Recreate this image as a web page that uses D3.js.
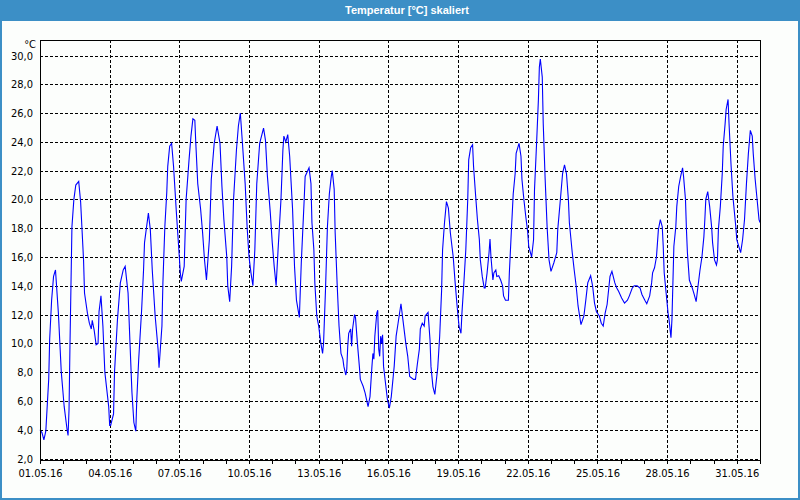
<!DOCTYPE html>
<html>
<head>
<meta charset="utf-8">
<script src="https://cdn.jsdelivr.net/npm/d3@7"></script>
<style>
body { margin: 0; background: #fff; }
text { font-family: "Liberation Sans Narrow", "DejaVu Sans Condensed", "Liberation Sans", sans-serif; }
</style>
</head>
<body>
<script>
// hours since 01.05.16 00:00
var hours = [0,2,4,6,7,9,10,12,14,16,19,22,25,28,29,30,31,32,33,35,37,40,42,45,46,49,51,53,54,56,58,60,61,63,65,67,71,72,73,76,77,80,83,86,88,91,93,95,97,99,
    100,102,105,107,108,112,114,116,119,122,123,126,127,129,131,132,134,136,138,141,143,145,146,149,151,154,156,158,160,161,163,166,168,170,172,175,177,180,183,186,188,190,193,194,196,198,
    200,203,205,207,209,212,214,216,218,220,222,224,227,231,233,235,238,240,242,244,246,249,251,252,254,256,258,261,263,265,268,270,273,274,278,280,281,283,284,286,288,290,292,293,295,297,299,
    301,302,304,305,307,309,311,313,314,316,317,318,319,321,322,323,325,326,328,330,331,334,336,339,341,343,344,345,346,348,349,350,351,352,353,354,355,357,359,361,363,366,368,370,373,375,378,380,382,386,388,390,392,393,395,397,398,
    401,403,404,406,408,410,411,413,415,416,418,420,422,424,427,429,431,433,435,436,438,440,442,443,445,447,448,450,452,454,455,457,459,460,462,464,465,466,468,469,471,472,474,476,478,479,481,484,485,487,489,491,492,495,497,498,
    500,502,504,505,508,510,511,513,515,516,517,519,520,522,524,526,528,531,534,535,538,540,542,544,546,547,550,552,554,556,559,562,564,566,569,571,573,575,578,580,582,584,586,588,589,591,594,596,598,
    601,604,607,609,612,614,617,620,622,625,627,630,632,633,635,637,639,641,643,644,645,647,649,650,652,653,654,655,657,658,660,662,664,665,667,668,669,671,674,676,678,680,682,684,686,687,688,690,692,694,695,697,699,
    700,701,703,705,706,708,709,711,712,714,716,718,719,720,724,726,728,730,732,734,736,737,739,741,743,744];

var temps = [4.0,3.8,3.3,3.9,5.1,7.5,10.3,13.0,14.65,15.1,12.1,8.0,5.6,4.0,3.6,5.4,10.0,14.0,18.1,20.0,21.0,21.25,19.8,15.8,13.5,12.1,11.4,11.0,11.6,10.9,9.9,10.0,12.2,13.3,11.2,8.0,5.6,4.3,4.3,5.1,8.0,11.6,14.2,15.1,15.35,13.5,10.0,6.6,4.5,3.9,
    6.1,8.9,12.3,15.1,17.0,19.05,17.9,15.1,11.9,9.6,8.3,11.2,14.2,18.1,20.5,22.3,23.7,23.9,22.3,19.0,17.0,14.9,14.3,15.35,20.0,22.75,24.4,25.6,25.5,23.9,21.1,19.3,17.7,15.8,14.4,17.2,21.4,23.9,25.1,23.9,20.9,18.6,16.0,14.0,12.9,15.35,
    20.0,23.45,25.1,26.0,24.1,21.1,18.1,16.0,14.9,14.0,16.5,21.1,23.9,24.95,24.1,21.6,19.05,17.0,15.35,14.0,16.5,20.0,23.45,24.4,24.0,24.5,23.0,19.3,15.35,13.0,11.8,15.6,20.0,21.6,22.2,21.1,18.4,16.5,14.2,11.9,11.2,10.1,9.3,10.0,13.7,18.1,20.4,
    21.6,22.0,20.7,17.7,14.2,11.2,9.3,8.9,8.4,7.8,8.2,9.8,10.7,11.0,9.8,11.0,12.0,11.8,10.0,8.4,7.5,7.0,6.55,5.6,6.3,8.4,9.3,8.9,10.5,12.1,12.3,9.6,9.1,10.5,10.0,10.6,8.4,7.25,6.1,5.5,6.3,8.4,10.5,11.4,12.75,11.65,10.0,9.1,7.7,7.5,7.5,8.6,9.6,11.0,11.4,11.2,11.9,
    12.15,10.25,8.4,7.0,6.45,7.7,8.3,10.5,13.7,16.5,18.4,19.85,19.4,17.7,16.0,14.2,12.6,11.2,10.7,12.1,14.2,16.5,20.0,22.75,23.6,23.8,22.3,20.4,18.6,17.2,15.8,14.65,13.85,13.85,14.9,16.3,17.25,16.0,14.4,14.9,15.1,14.65,14.7,14.4,14.0,13.3,13.0,13.0,14.9,17.7,20.4,21.8,23.2,23.9,23.0,21.4,
    20.0,18.8,17.7,16.75,16.0,17.2,20.7,23.7,26.9,29.2,29.75,28.5,25.3,21.4,18.1,15.8,15.0,15.6,16.3,17.9,20.2,21.8,22.4,21.8,20.0,18.4,16.3,15.1,14.0,12.6,11.3,11.9,13.0,14.2,14.7,14.0,12.8,12.2,11.9,11.4,11.2,12.1,12.7,14.0,14.65,15.0,14.2,13.85,13.6,
    13.15,12.8,13.0,13.3,13.85,14.0,14.0,13.85,13.4,13.0,12.75,13.3,14.2,14.9,15.25,16.0,17.9,18.6,18.1,16.75,14.9,13.5,12.1,11.65,10.4,11.65,14.2,16.75,18.1,19.5,20.9,21.6,22.2,21.6,20.0,17.9,16.3,14.4,13.85,13.4,12.9,14.0,15.1,16.0,17.4,18.6,20.0,20.55,19.5,18.1,17.0,15.8,15.45,
    15.8,17.9,19.5,21.8,23.7,25.3,26.25,26.95,25.3,22.5,20.2,18.8,18.1,17.2,16.3,17.2,18.6,21.1,23.2,24.8,24.4,23.2,21.4,20.0,18.6,18.4];

var xTickLabels = ["01.05.16","04.05.16","07.05.16","10.05.16","13.05.16","16.05.16","19.05.16","22.05.16","25.05.16","28.05.16","31.05.16"];
var yTicks = [2,4,6,8,10,12,14,16,18,20,22,24,26,28,30];
var title = "Temperatur [°C] skaliert";
var unit = "°C";

(function() {

    var w = 800, h = 500;
    var blue = "#3c8fc6";
    var start = new Date(2016, 4, 1), end = new Date(2016, 5, 1);
    var parseDay = d3.timeParse("%d.%m.%y");

    var svg = d3.select("body").append("svg")
        .attr("width", w)
        .attr("height", h);

    // frame + title bar
    svg.append("rect")
        .attr("x", 1).attr("y", 1)
        .attr("width", w - 2).attr("height", h - 2)
        .attr("fill", "#fcfefc")
        .attr("stroke", blue)
        .attr("stroke-width", 2);

    svg.append("rect")
        .attr("x", 0).attr("y", 0)
        .attr("width", w).attr("height", 21)
        .attr("fill", blue);

    svg.append("text")
        .attr("x", 407).attr("y", 14)
        .attr("text-anchor", "middle")
        .attr("fill", "#fff")
        .style("font-family", "'Liberation Sans', Arial, sans-serif")
        .style("font-weight", "bold")
        .style("font-size", "11px")
        .text(title);

    var pLeft = 40, pRight = 760, pTop = 40, pBottom = 460;

    var x = d3.scaleTime().domain([start, end]).range([pLeft, pRight]);
    var y = d3.scaleLinear().domain([1.896, 31.077]).range([pBottom, pTop]);

    var data = hours.map(function(hr, i) {
        return { t: d3.timeHour.offset(start, hr), v: temps[i] };
    });

    // grid
    var grid = svg.append("g")
        .attr("stroke", "#000")
        .attr("stroke-dasharray", "3,2")
        .attr("shape-rendering", "crispEdges");

    grid.selectAll(".hg")
        .data(yTicks)
        .enter()
        .append("line")
        .attr("x1", pLeft).attr("x2", pRight)
        .attr("y1", function(d) { return Math.round(y(d)) + 0.5; })
        .attr("y2", function(d) { return Math.round(y(d)) + 0.5; });

    grid.selectAll(".vg")
        .data(xTickLabels.slice(1))
        .enter()
        .append("line")
        .attr("y1", pTop).attr("y2", pBottom)
        .attr("x1", function(d) { return Math.round(x(parseDay(d))) + 0.5; })
        .attr("x2", function(d) { return Math.round(x(parseDay(d))) + 0.5; });

    // x axis: day ticks + labels every 3 days
    var xMinor = svg.append("g")
        .attr("transform", "translate(0," + pBottom + ")")
        .call(d3.axisBottom(x).ticks(d3.timeDay.every(1)).tickSize(4).tickFormat(""));
    xMinor.select(".domain").remove();
    xMinor.selectAll("line").attr("shape-rendering", "crispEdges");

    var xMajor = svg.append("g")
        .attr("transform", "translate(0," + pBottom + ")")
        .call(d3.axisBottom(x)
            .tickValues(xTickLabels.map(parseDay))
            .tickSize(4)
            .tickPadding(5)
            .tickFormat(d3.timeFormat("%d.%m.%y")));
    xMajor.select(".domain").remove();
    xMajor.selectAll("line").attr("shape-rendering", "crispEdges");
    xMajor.selectAll("text")
        .style("font-size", "11px")
        .attr("fill", "#000");

    // y axis labels
    var yAxis = svg.append("g")
        .attr("transform", "translate(" + pLeft + ",0)")
        .call(d3.axisLeft(y)
            .tickValues(yTicks)
            .tickSize(0)
            .tickPadding(7)
            .tickFormat(function(d) { return d3.format(".1f")(d).replace(".", ","); }));
    yAxis.select(".domain").remove();
    yAxis.selectAll("text")
        .style("font-size", "11px")
        .attr("fill", "#000");

    svg.append("text")
        .attr("x", 36).attr("y", 48)
        .attr("text-anchor", "end")
        .style("font-size", "11px")
        .text(unit);

    // temperature line
    var line = d3.line()
        .x(function(d) { return x(d.t); })
        .y(function(d) { return y(d.v); });

    svg.append("path")
        .datum(data)
        .attr("d", line)
        .attr("fill", "none")
        .attr("stroke", "#0000ff")
        .attr("stroke-width", 1.1);

    // plot frame
    svg.append("rect")
        .attr("x", pLeft + 0.5).attr("y", pTop + 0.5)
        .attr("width", pRight - pLeft).attr("height", pBottom - pTop)
        .attr("fill", "none")
        .attr("stroke", "#000")
        .attr("shape-rendering", "crispEdges");

})();
</script>
</body>
</html>
